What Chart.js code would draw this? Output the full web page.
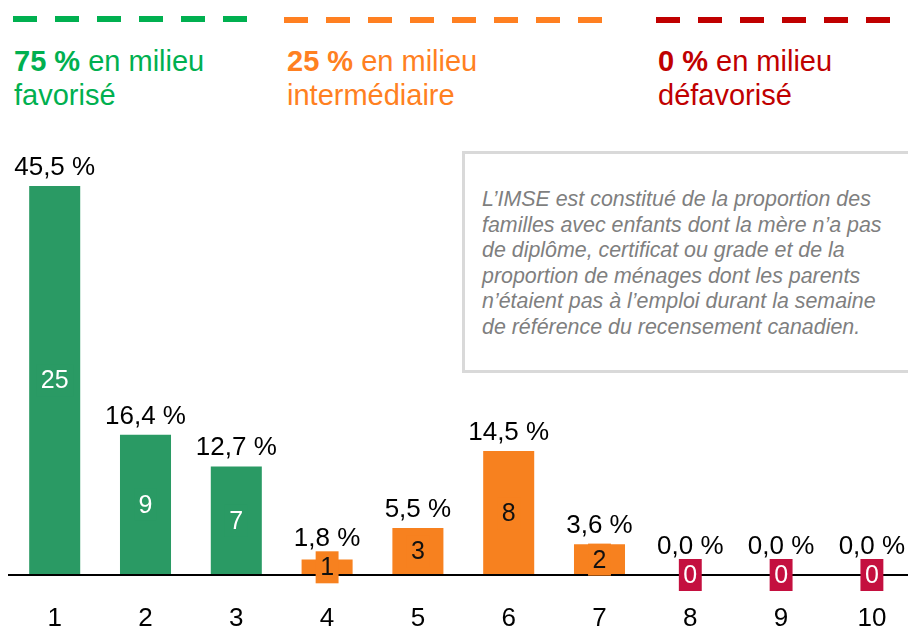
<!DOCTYPE html>
<html lang="fr">
<head>
<meta charset="utf-8">
<script src="https://cdn.jsdelivr.net/npm/chart.js@4"></script>
<style>
    html, body { margin: 0; padding: 0; background: #fff; }
    body { width: 908px; height: 626px; overflow: hidden; position: relative; font-family: 'Liberation Sans', Arial, sans-serif; }
    #wrap { position: absolute; left: 0; top: 0; width: 920px; height: 626px; }
    .dash { position: absolute; height: 6px; }
    .leg { position: absolute; top: 44px; font-size: 29px; line-height: 34px; white-space: nowrap; }
    .leg b { font-weight: bold; }
    #note {
        position: absolute; left: 462px; top: 151px; width: 470px; height: 222px;
        border: 3px solid #d9d9d9; box-sizing: border-box;
        padding: 33px 0 0 17px;
        font-style: italic; font-size: 21.4px; line-height: 25.6px; color: #7f7f7f;
        white-space: nowrap;
    }
</style>
</head>
<body>
<div class="dash" id="dashGreen" style="left:13px; top:15.5px; width:234px;"></div>
<div class="dash" id="dashOrange" style="left:284px; top:17px; width:318px;"></div>
<div class="dash" id="dashRed" style="left:656px; top:17px; width:260px;"></div>

<div class="leg" style="left:14px; color:#00b050;"><b>75 %</b> en milieu<br>favorisé</div>
<div class="leg" style="left:287px; color:#ff8021;"><b>25 %</b> en milieu<br>intermédiaire</div>
<div class="leg" style="left:658px; color:#c00000;"><b>0 %</b> en milieu<br>défavorisé</div>

<div id="note">L’IMSE est constitué de la proportion des<br>familles avec enfants dont la mère n’a pas<br>de diplôme, certificat ou grade et de la<br>proportion de ménages dont les parents<br>n’étaient pas à l’emploi durant la semaine<br>de référence du recensement canadien.</div>

<div id="wrap"><canvas id="imseChart" width="920" height="626"></canvas></div>

<script>
const categories = ['1', '2', '3', '4', '5', '6', '7', '8', '9', '10'];
const percentages = [45.5, 16.4, 12.7, 1.8, 5.5, 14.5, 3.6, 0.0, 0.0, 0.0];
const counts = [25, 9, 7, 1, 3, 8, 2, 0, 0, 0];
const groups = ['fav', 'fav', 'fav', 'int', 'int', 'int', 'int', 'def', 'def', 'def'];

const barColors = { fav: '#2a9a64', int: '#f7811f', def: '#c4103f' };
const countColors = { fav: '#ffffff', int: '#111111', def: '#ffffff' };
const legendColors = { fav: '#00b050', int: '#ff8021', def: '#c00000' };

document.addEventListener('DOMContentLoaded', function () {
    initDashes();
    initImseChart();
});

function initDashes() {
    const set = function (id, color) {
        const el = document.getElementById(id);
        el.style.background = 'repeating-linear-gradient(to right, ' + color + ' 0 24px, transparent 24px 42px)';
    };
    set('dashGreen', legendColors.fav);
    set('dashOrange', legendColors.int);
    set('dashRed', legendColors.def);
}

function formatPct(v) {
    return v.toFixed(1).replace('.', ',') + ' %';
}

const barLabels = {
    id: 'barLabels',
    afterDraw(chart) {
        const ctx = chart.ctx;
        const meta = chart.getDatasetMeta(0);
        ctx.save();
        ctx.textAlign = 'center';
        meta.data.forEach((bar, i) => {
            const g = groups[i];
            const mid = (bar.y + bar.base) / 2;

            // count label with a box in the bar colour
            ctx.font = '25px "Liberation Sans", Arial, sans-serif';
            const txt = String(counts[i]);
            const w = ctx.measureText(txt).width + 9;
            const h = 32;
            ctx.fillStyle = barColors[g];
            ctx.fillRect(bar.x - w / 2, mid - h / 2, w, h);
            ctx.fillStyle = countColors[g];
            ctx.textBaseline = 'middle';
            ctx.fillText(txt, bar.x, mid + 1);

            // percentage above
            ctx.font = '26px "Liberation Sans", Arial, sans-serif';
            ctx.fillStyle = '#000';
            ctx.textBaseline = 'alphabetic';
            const baseY = Math.min(bar.y - 11, mid - h / 2 - 5);
            ctx.fillText(formatPct(percentages[i]), bar.x, baseY);
        });
        ctx.restore();
    }
};

function initImseChart() {
    const canvas = document.getElementById('imseChart');
    if (!canvas || typeof Chart === 'undefined') return;

    new Chart(canvas.getContext('2d'), {
        type: 'bar',
        data: {
            labels: categories,
            datasets: [{
                data: percentages,
                backgroundColor: groups.map(g => barColors[g]),
                borderWidth: 0,
                barPercentage: 0.562,
                categoryPercentage: 1
            }]
        },
        options: {
            responsive: false,
            animation: false,
            events: [],
            layout: { padding: { left: 9.3, right: 2.7, top: 147.5, bottom: 0 } },
            plugins: { legend: { display: false }, tooltip: { enabled: false } },
            scales: {
                x: {
                    offset: true,
                    grid: { display: false, drawTicks: false },
                    border: { display: true, color: '#000', width: 2, z: 1 },
                    ticks: {
                        color: '#000',
                        padding: 28,
                        font: { family: '"Liberation Sans", Arial, sans-serif', size: 26 }
                    },
                    afterFit(scale) { scale.height = 51; }
                },
                y: {
                    display: false,
                    min: 0,
                    max: 50
                }
            }
        },
        plugins: [barLabels]
    });
}
</script>
</body>
</html>
